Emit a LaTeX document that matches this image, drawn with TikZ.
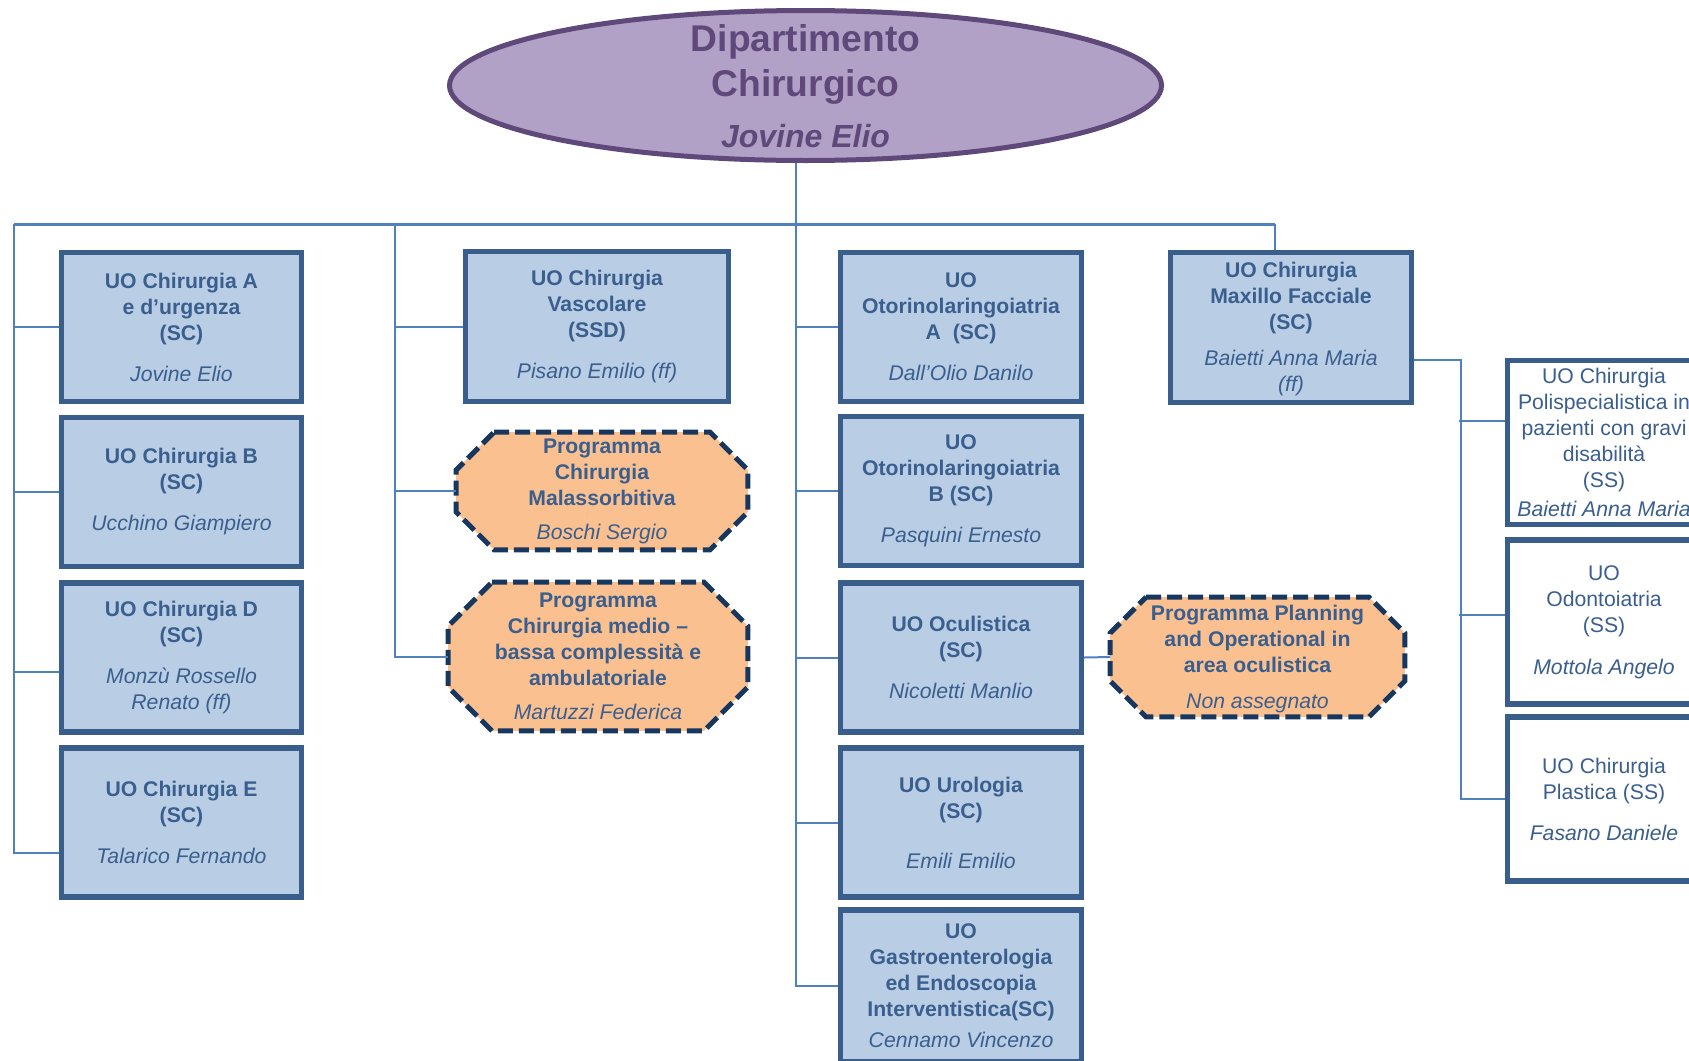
\documentclass[tikz,border=0pt]{standalone}
\usepackage{fontspec}
\setmainfont{Liberation Sans}
\definecolor{boxblue}{RGB}{185,205,229}
\definecolor{edgeblue}{RGB}{58,94,140}
\definecolor{txtblue}{RGB}{58,95,142}
\definecolor{busblue}{RGB}{79,129,189}
\definecolor{depfill}{RGB}{178,161,199}
\definecolor{depedge}{RGB}{95,73,122}
\definecolor{progfill}{RGB}{250,192,144}
\definecolor{progedge}{RGB}{23,55,94}
\usetikzlibrary{shapes.geometric,positioning,calc,backgrounds}
\newcommand{\nome}[1]{{\mdseries\itshape #1}}

\begin{document}
\begin{tikzpicture}[x=0.5pt, y=-0.5pt,
    unit/.style={rectangle, draw=edgeblue, line width=2.6pt, fill=boxblue, text=txtblue,
                 align=center, inner sep=1pt, font=\bfseries\fontsize{10.6}{13}\selectfont,
                 minimum width=120pt, minimum height=74.5pt},
    subunit/.style={unit, fill=white, font=\fontsize{10.6}{13}\selectfont,
                 minimum width=96.5pt, minimum height=82pt},
    prog/.style={rectangle, text=txtblue, align=center, inner sep=1pt,
                 font=\bfseries\fontsize{10.6}{13}\selectfont},
    progline/.style={draw=progedge, fill=progfill, line width=2.5pt, dash pattern=on 7.5pt off 3pt},
    bus/.style={draw=busblue, line width=1pt},
    dept/.style={ellipse, draw=depedge, line width=2.5pt, fill=depfill,
                 minimum width=356pt, minimum height=75pt}]

\useasboundingbox (0,0) rectangle (1689,1060);

% Dipartimento
\node[dept] (dip) at (805.5,85.5) {};
\node[font=\bfseries\fontsize{18.6}{22.5}\selectfont, text=depedge, align=center] (diptxt) at (805.5,86)
  {Dipartimento\\Chirurgico\\[3pt]{\fontsize{16}{19}\selectfont\textit{Jovine Elio}}};

% colonna 1
\node[unit] (chA) at (181.5,327) {UO Chirurgia A\\e d’urgenza\\(SC)\\[7.5pt]\nome{Jovine Elio}};
\node[unit] (chB) at (181.5,492) {UO Chirurgia B\\(SC)\\[7.5pt]\nome{Ucchino Giampiero}};
\node[unit] (chD) at (181.5,657.5) {UO Chirurgia D\\(SC)\\[7.5pt]\nome{Monzù Rossello}\\\nome{Renato (ff)}};
\node[unit] (chE) at (181.5,822.5) {UO Chirurgia E\\(SC)\\[7.5pt]\nome{Talarico Fernando}};

% colonna 2
\node[unit, minimum width=131.5pt, minimum height=75pt] (vasc) at (597,326.5)
  {UO Chirurgia\\Vascolare\\(SSD)\\[7.5pt]\nome{Pisano Emilio (ff)}};
\node[prog, minimum width=145.5pt, minimum height=58.5pt] (mal) at (602,491)
  {Programma\\Chirurgia\\Malassorbitiva\\[4pt]\nome{Boschi Sergio}};
\node[prog, minimum width=149.5pt, minimum height=74pt] (med) at (598,656.5)
  {Programma\\Chirurgia medio –\\bassa complessità e\\ambulatoriale\\[4pt]\nome{Martuzzi Federica}};

% colonna 3
\node[unit, minimum width=120.5pt] (otoA) at (961,327) {UO\\Otorinolaringoiatria\\A\ \ (SC)\\[7.5pt]\nome{Dall’Olio Danilo}};
\node[unit, minimum width=120.5pt] (otoB) at (961,491) {UO\\Otorinolaringoiatria\\B (SC)\\[7.5pt]\nome{Pasquini Ernesto}};
\node[unit, minimum width=120.5pt] (ocul) at (961,657.5) {UO Oculistica\\(SC)\\[7.5pt]\nome{Nicoletti Manlio}};
\node[unit, minimum width=120.5pt] (uro) at (961,822.5) {UO Urologia\\(SC)\\[12pt]\nome{Emili Emilio}};
\node[unit, minimum width=120.5pt, minimum height=76pt] (gastro) at (961,986)
  {UO\\Gastroenterologia\\ed Endoscopia\\Interventistica(SC)\\[2.5pt]\nome{Cennamo Vincenzo}};
\node[prog, minimum width=147pt, minimum height=59.5pt] (plan) at (1257.5,657)
  {\\[-3pt]Programma Planning\\and Operational in\\area oculistica\\[5pt]\nome{Non assegnato}};

% colonna 4
\node[unit, minimum width=120.5pt, minimum height=75pt] (maxi) at (1291,327.5)
  {\\[-4pt]UO Chirurgia\\Maxillo Facciale\\(SC)\\[5pt]\nome{Baietti Anna Maria}\\\nome{(ff)}};
\node[subunit] (poli) at (1604,442.5)
  {UO Chirurgia\\Polispecialistica in\\pazienti con gravi\\disabilità\\(SS)\\[1.5pt]\nome{Baietti Anna Maria}};
\node[subunit] (odon) at (1604,622) {UO\\Odontoiatria\\(SS)\\[8pt]\nome{Mottola Angelo}};
\node[subunit] (plast) at (1604,799) {UO Chirurgia\\Plastica (SS)\\[7.5pt]\nome{Fasano Daniele}};

% programmi (ottagoni)
\begin{scope}[on background layer]
\foreach \n/\c in {mal/19pt, med/22pt, plan/18pt}
  \draw[progline] ([xshift=\c]\n.north west) -- ([xshift=-\c]\n.north east)
    -- ([yshift=-\c]\n.north east) -- ([yshift=\c]\n.south east)
    -- ([xshift=-\c]\n.south east) -- ([xshift=\c]\n.south west)
    -- ([yshift=\c]\n.south west) -- ([yshift=-\c]\n.north west) -- cycle;
\end{scope}

% linee
\coordinate (busL) at (14,224);
\coordinate (busV) at (395,224);
\coordinate (busC) at (796,224);
\coordinate (busM) at (1275,224);
\coordinate (busR) at (1461,799);

\draw[bus, line width=1.5pt] (busL) -- (busM);
\draw[bus] (dip.south -| busC) |- (gastro.west);
\draw[bus] (busM) -- (busM |- maxi.north);

\draw[bus] (busL) |- ([yshift=-15pt]chE.west);
\foreach \n in {chA,chB}
  \draw[bus] (busL |- \n.west) -- (\n.west);
\draw[bus] ([yshift=-7pt]chD.west) -- +(-46,0);

\draw[bus] (busV) |- (med.west);
\foreach \n in {vasc,mal}
  \draw[bus] (busV |- \n.west) -- (\n.west);

\foreach \n in {otoA,otoB,ocul,uro}
  \draw[bus] (busC |- \n.west) -- (\n.west);
\draw[bus] (ocul.east) -- (plan.west);

\draw[bus] ([yshift=-16pt]maxi.east) -| (busR) -- (plast.west);
\draw[bus] ([yshift=11pt]poli.west) -- +(-46,0);
\draw[bus] ([yshift=3.5pt]odon.west) -- +(-46,0);
\end{tikzpicture}
\end{document}
